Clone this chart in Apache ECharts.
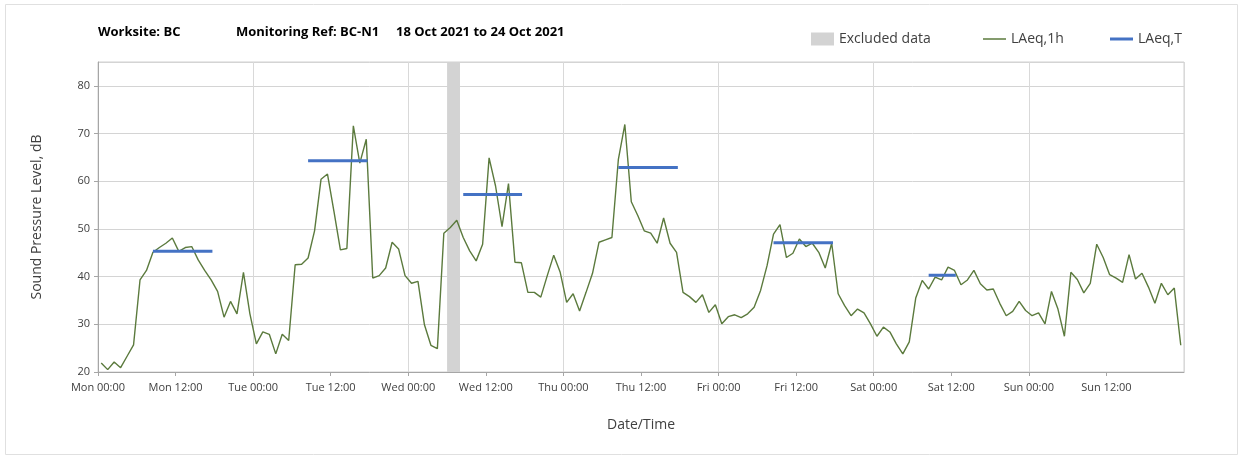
<!DOCTYPE html>
<html>
<head>
<meta charset="utf-8">
<script src="https://cdn.jsdelivr.net/npm/echarts@6/dist/echarts.min.js"></script>
<style>
html,body{margin:0;padding:0;background:#fff;}
#chart{width:1243px;height:459px;}
</style>
</head>
<body>
<div id="chart"></div>
<script>
// ---- data ----
const dayNames = ['Mon','Tue','Wed','Thu','Fri','Sat','Sun'];
const titleParts = ['Worksite: BC', 'Monitoring Ref: BC-N1', '18 Oct 2021 to 24 Oct 2021'];
const legendNames = ['Excluded data', 'LAeq,1h', 'LAeq,T'];
// hourly LAeq,1h values, Mon 00:00 .. Sun 23:00 (plotted at mid-hour)
const laeq1h = [
  21.9,20.5,22.1,20.9,23.3,25.7,39.3,41.3,45.1,46.1,47.0,48.1,45.3,46.1,46.3,43.5,41.3,39.3,36.9,31.5,34.8,32.2,40.9,32.2,
  25.9,28.4,27.9,23.8,27.9,26.6,42.5,42.6,43.9,49.6,60.4,61.5,53.7,45.6,45.9,71.6,63.8,68.8,39.7,40.2,41.8,47.2,45.8,40.2,
  38.6,39.0,29.9,25.6,24.9,49.1,50.3,51.8,48.2,45.4,43.3,46.8,64.9,59.0,50.5,59.5,43.0,42.9,36.7,36.7,35.7,40.2,44.5,40.9,
  34.6,36.4,32.8,36.7,40.7,47.2,47.7,48.2,64.6,71.9,55.7,52.8,49.6,49.1,47.0,52.3,47.0,45.1,36.7,35.8,34.6,36.2,32.5,34.1,
  30.1,31.6,32.0,31.4,32.2,33.6,37.1,42.3,48.9,50.9,44.0,44.9,47.9,46.3,47.0,45.1,41.8,47.0,36.4,33.9,31.8,33.2,32.4,30.1,
  27.5,29.4,28.4,25.9,23.8,26.3,35.5,39.2,37.4,39.9,39.3,42.0,41.3,38.3,39.3,41.3,38.5,37.2,37.4,34.4,31.8,32.7,34.8,32.9,
  31.8,32.4,30.1,36.9,33.2,27.5,40.9,39.4,36.6,38.6,46.8,44.0,40.4,39.7,38.8,44.6,39.5,40.7,37.8,34.4,38.6,36.2,37.6,25.6
];
// LAeq,T periods (hours from Mon 00:00)
const periodStart = [8.5, 32.5, 56.5, 80.5, 104.5, 128.5];
const periodEnd   = [17.7, 41.7, 65.6, 89.7, 113.7, 132.7];
const periodLevel = [45.3, 64.3, 57.2, 62.9, 47.1, 40.3];
// excluded data (hours from Mon 00:00)
const excludedStart = [54];
const excludedEnd = [56];

// ---- chart ----
const chart = echarts.init(document.getElementById('chart'));
const FONT = "'Open Sans', 'Noto Sans', sans-serif";

const lineData = laeq1h.map((v, i) => [i + 0.5, v]);

const periodSeries = periodLevel.map((v, k) => ({
  name: legendNames[2],
  type: 'line',
  data: [[periodStart[k], v], [periodEnd[k], v]],
  symbol: 'none',
  lineStyle: { color: '#4472C4', width: 3, cap: 'butt' },
  itemStyle: { color: '#4472C4' },
  silent: true,
  z: 4
}));

const option = {
  animation: false,
  backgroundColor: '#fff',
  textStyle: { fontFamily: FONT },
  grid: { left: 98, right: 59, top: 62, bottom: 87, show: true, borderColor: '#d0d0d0', borderWidth: 1 },
  graphic: [
    { type: 'rect', shape: { x: 5.5, y: 4.5, width: 1232, height: 450 }, style: { fill: 'none', stroke: '#e0e0e0', lineWidth: 1 }, silent: true, z: -10 },
    { type: 'text', left: 98, top: 26, style: { text: titleParts[0], font: "bold 13px " + FONT, fill: '#000' } },
    { type: 'text', left: 236, top: 26, style: { text: titleParts[1], font: "bold 13px " + FONT, fill: '#000' } },
    { type: 'text', left: 396, top: 26, style: { text: titleParts[2], font: "bold 13px " + FONT, fill: '#000' } }
  ],
  legend: [
    { data: [legendNames[0]], left: 806, top: 27, icon: 'rect', itemWidth: 23, itemHeight: 13, itemGap: 6,
      textStyle: { fontSize: 14, color: '#404040', fontFamily: FONT } },
    { data: [legendNames[1]], left: 978, top: 27, icon: 'rect', itemWidth: 23, itemHeight: 1.5, itemGap: 6,
      textStyle: { fontSize: 14, color: '#404040', fontFamily: FONT } },
    { data: [legendNames[2]], left: 1105, top: 27, icon: 'rect', itemWidth: 23, itemHeight: 3, itemGap: 6,
      textStyle: { fontSize: 14, color: '#404040', fontFamily: FONT } }
  ],
  xAxis: [
    {
      type: 'value', min: 0, max: 168, interval: 12,
      name: 'Date/Time', nameLocation: 'middle', nameGap: 46,
      nameTextStyle: { fontSize: 14, color: '#404040', fontFamily: FONT },
      axisLine: { lineStyle: { color: '#a6a6a6' } },
      axisTick: { show: true, length: 4, lineStyle: { color: '#a6a6a6' } },
      splitLine: { show: false },
      axisLabel: {
        showMaxLabel: false, margin: 10, fontSize: 11, color: '#404040', fontFamily: FONT,
        formatter: v => dayNames[Math.floor(v / 24) % 7] + ' ' + (v % 24 === 0 ? '00:00' : '12:00')
      }
    },
    {
      type: 'value', min: 0, max: 168, interval: 24, position: 'bottom',
      axisLine: { show: false }, axisTick: { show: false }, axisLabel: { show: false },
      splitLine: { show: true, lineStyle: { color: '#d9d9d9', width: 1 } }
    }
  ],
  yAxis: {
    type: 'value', min: 20, max: 85, interval: 10,
    name: 'Sound Pressure Level, dB', nameLocation: 'middle', nameGap: 54,
    nameTextStyle: { fontSize: 14, color: '#404040', fontFamily: FONT },
    axisLine: { show: true, lineStyle: { color: '#a6a6a6' } },
    axisTick: { show: true, length: 4, lineStyle: { color: '#a6a6a6' } },
    splitLine: { show: true, lineStyle: { color: '#d4d4d4', width: 1 } },
    axisLabel: { showMaxLabel: false, margin: 8, fontSize: 11, color: '#404040', fontFamily: FONT }
  },
  series: [
    {
      name: legendNames[0], type: 'bar', data: [], itemStyle: { color: '#d3d3d3' }
    },
    {
      name: legendNames[1], type: 'line', data: lineData, symbol: 'none',
      lineStyle: { color: '#5b7a3d', width: 1.4 }, itemStyle: { color: '#5b7a3d' },
      z: 3,
      markArea: {
        silent: true,
        itemStyle: { color: '#d3d3d3', opacity: 1 },
        data: excludedStart.map((s, k) => [{ xAxis: s }, { xAxis: excludedEnd[k] }])
      }
    },
    ...periodSeries
  ]
};
chart.setOption(option);
</script>
</body>
</html>
